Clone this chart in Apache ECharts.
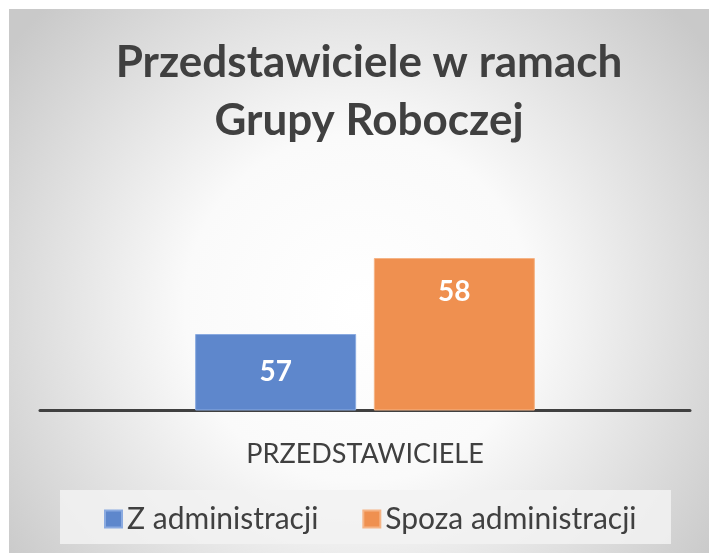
<!DOCTYPE html>
<html>
<head>
<meta charset="utf-8">
<script src="https://cdn.jsdelivr.net/npm/echarts@6/dist/echarts.min.js"></script>
<style>
  html, body { margin: 0; padding: 0; background: #fff; }
  #chart {
    position: absolute;
    left: 9px;
    top: 9px;
    width: 700px;
    height: 544px;
  }
</style>
</head>
<body>
<div id="chart"></div>
<script>
// dane wykresu
const categories = ["PRZEDSTAWICIELE"];
const seriesNames = ["Z administracji", "Spoza administracji"];
const zAdministracji = [57];
const spozaAdministracji = [58];

const chartDom = document.getElementById("chart");
const myChart = echarts.init(chartDom);

const font = "Lato, 'Noto Sans', sans-serif";

const option = {
  backgroundColor: {
    type: "radial",
    x: 0.5,
    y: 0.55,
    r: 0.8,
    colorStops: [
      { offset: 0, color: "#ffffff" },
      { offset: 0.4, color: "#fafafa" },
      { offset: 1, color: "#c9c9c9" },
    ],
  },
  title: {
    text: "Przedstawiciele w ramach\nGrupy Roboczej",
    left: 355,
    textAlign: "center",
    top: 20,
    textStyle: {
      fontFamily: font,
      fontSize: 44,
      fontWeight: "bold",
      color: "#404040",
      lineHeight: 58,
    },
  },
  graphic: [
    {
      type: "rect",
      left: 51,
      top: 481,
      shape: { width: 611, height: 54 },
      style: { fill: "rgba(242,242,242,0.85)" },
      z: -1,
    },
  ],
  legend: {
    data: seriesNames,
    left: 90,
    top: 490,
    itemWidth: 17,
    itemHeight: 17,
    itemGap: 44,
    icon: "rect",
    textStyle: {
      fontFamily: font,
      fontSize: 30,
      color: "#404040",
    },
  },
  grid: {
    left: 31,
    right: 19,
    top: 173,
    bottom: 143,
  },
  xAxis: {
    type: "category",
    data: categories,
    axisLine: { lineStyle: { color: "#404040", width: 3 } },
    axisTick: { show: false },
    axisLabel: {
      fontFamily: font,
      fontSize: 27,
      color: "#404040",
      margin: 31,
    },
  },
  yAxis: {
    type: "value",
    min: 56,
    max: 59,
    interval: 1,
    show: false,
  },
  series: [
    {
      name: seriesNames[0],
      type: "bar",
      data: zAdministracji,
      barWidth: 161,
      barGap: "11%",
      itemStyle: { color: "#5E87CC", borderColor: "#8AAAE0", borderWidth: 1 },
      label: {
        show: true,
        position: "inside",
        fontFamily: font,
        fontSize: 28,
        fontWeight: "bold",
        color: "#ffffff",
      },
    },
    {
      name: seriesNames[1],
      type: "bar",
      data: spozaAdministracji,
      barWidth: 161,
      itemStyle: { color: "#EF9050", borderColor: "#F5B486", borderWidth: 1 },
      label: {
        show: true,
        position: "insideTop",
        distance: 20,
        fontFamily: font,
        fontSize: 28,
        fontWeight: "bold",
        color: "#ffffff",
      },
    },
  ],
};

option && myChart.setOption(option);
</script>
</body>
</html>
